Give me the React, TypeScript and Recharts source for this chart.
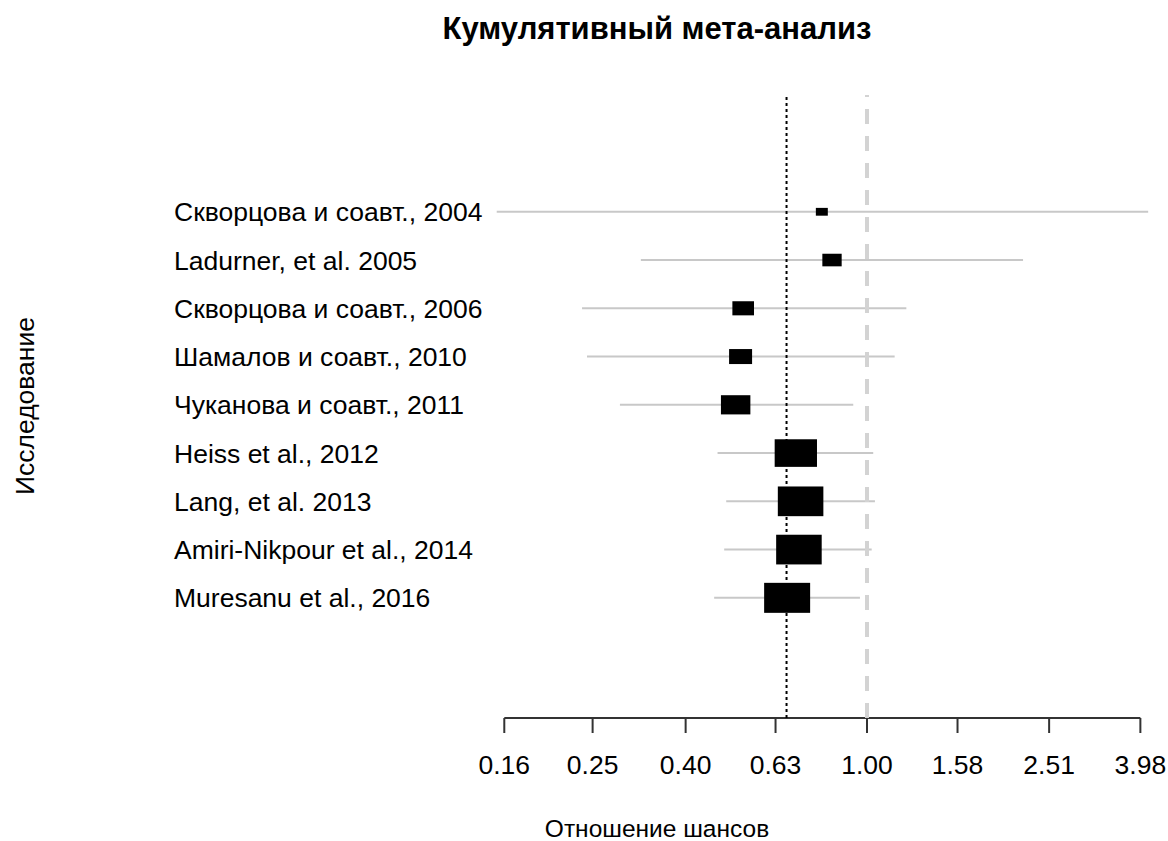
import { ScatterChart, Scatter, XAxis, YAxis, ErrorBar, ReferenceLine } from "recharts";

const studies = [
  "Скворцова и соавт., 2004",
  "Ladurner, et al. 2005",
  "Скворцова и соавт., 2006",
  "Шамалов и соавт., 2010",
  "Чуканова и соавт., 2011",
  "Heiss et al., 2012",
  "Lang, et al. 2013",
  "Amiri-Nikpour et al., 2014",
  "Muresanu et al., 2016",
];
const estimates = [0.796, 0.838, 0.535, 0.528, 0.515, 0.698, 0.715, 0.709, 0.668];
const lower = [0.154, 0.319, 0.237, 0.243, 0.287, 0.47, 0.491, 0.486, 0.462];
const upper = [4.14, 2.2, 1.22, 1.15, 0.933, 1.032, 1.041, 1.024, 0.965];
const weights = [0.26, 0.42, 0.47, 0.5, 0.64, 0.92, 0.99, 0.99, 1.0];
const xTicks = [0.16, 0.25, 0.4, 0.63, 1.0, 1.58, 2.51, 3.98];
const pooled = 0.666;
const nullValue = 1;

const FONT = "'Liberation Sans', Arial, sans-serif";
const Y_MIN = -1.42;
const Y_MAX = 11.49;

const rows = studies.map((name, i) => ({
  name,
  row: i + 1,
  or: estimates[i],
  err: [estimates[i] - lower[i], upper[i] - estimates[i]],
  w: weights[i],
}));

const StudyTick = (props: any) => (
  <text x={174} y={props.y} dy={9.5} fontSize={26.5} fill="#000" fontFamily={FONT} textAnchor="start">
    {studies[props.payload.value - 1]}
  </text>
);

const OrTick = (props: any) => (
  <text x={props.x} y={props.y} dy={41} fontSize={26.5} fill="#000" fontFamily={FONT} textAnchor="middle">
    {Number(props.payload.value).toFixed(2)}
  </text>
);

const Box = (props: any) => {
  const w = 46 * props.payload.w;
  const h = 30 * props.payload.w;
  return <rect x={props.cx - w / 2} y={props.cy - h / 2} width={w} height={h} fill="#000" />;
};

export default function App() {
  return (
    <div style={{ position: "absolute", left: 0, top: 0, width: 1168, height: 841, background: "#fff" }}>
      <ScatterChart width={1168} height={841} margin={{ top: 95, right: 8, left: 178, bottom: 63 }}>
        <XAxis
          type="number"
          dataKey="or"
          scale="log"
          domain={[0.1401, 4.395]}
          allowDataOverflow
          ticks={xTicks}
          interval={0}
          height={60}
          axisLine={false}
          tickSize={15}
          tickMargin={0}
          tickLine={{ stroke: "#333", strokeWidth: 2 }}
          tick={<OrTick />}
        />
        <YAxis
          type="number"
          dataKey="row"
          reversed
          domain={[Y_MIN, Y_MAX]}
          allowDataOverflow
          ticks={rows.map((r) => r.row)}
          interval={0}
          width={300}
          axisLine={false}
          tickLine={false}
          tick={<StudyTick />}
        />
        <ReferenceLine
          segment={[
            { x: xTicks[0], y: Y_MAX },
            { x: xTicks[xTicks.length - 1], y: Y_MAX },
          ]}
          stroke="#333"
          strokeWidth={2}
          ifOverflow="visible"
        />
        <Scatter data={rows} isAnimationActive={false} shape={() => <g />}>
          <ErrorBar dataKey="err" direction="x" width={0} stroke="#c8c8c8" strokeWidth={2} isAnimationActive={false} />
        </Scatter>
        <ReferenceLine x={nullValue} stroke="#d3d3d3" strokeWidth={4} strokeDasharray="15 12" />
        <Scatter data={rows} isAnimationActive={false} shape={<Box />} />
        <ReferenceLine x={pooled} stroke="#000" strokeWidth={2} strokeDasharray="3 3" />
      </ScatterChart>
      <svg width={1168} height={841} style={{ position: "absolute", left: 0, top: 0, pointerEvents: "none" }}>
        <text x={657} y={39} textAnchor="middle" fontSize={31} fontWeight="bold" fontFamily={FONT} fill="#000">
          Кумулятивный мета-анализ
        </text>
        <text x={657} y={837} textAnchor="middle" fontSize={24.5} fontFamily={FONT} fill="#000">
          Отношение шансов
        </text>
        <text x={34} y={406} textAnchor="middle" fontSize={26.5} fontFamily={FONT} fill="#000" transform="rotate(-90 34 406)">
          Исследование
        </text>
      </svg>
    </div>
  );
}
